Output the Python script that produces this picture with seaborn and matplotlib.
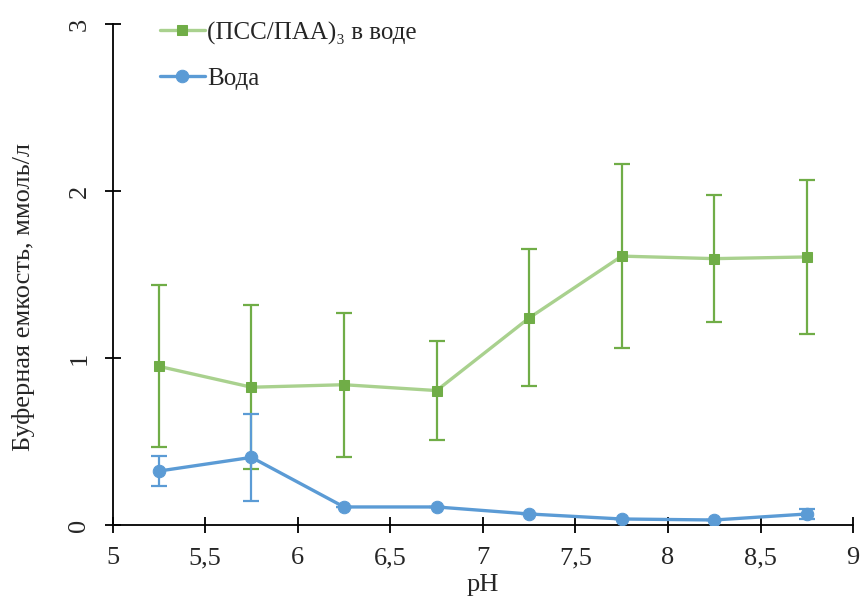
import numpy as np
import pandas as pd
import matplotlib
matplotlib.use("Agg")
import matplotlib.pyplot as plt
import seaborn as sns

ph = [5.25, 5.75, 6.25, 6.75, 7.25, 7.75, 8.25, 8.75]
pss_paa = [0.95, 0.825, 0.84, 0.805, 1.24, 1.61, 1.595, 1.605]
pss_paa_err = [0.485, 0.49, 0.43, 0.295, 0.41, 0.55, 0.38, 0.46]
water = [0.323, 0.405, 0.108, 0.108, 0.066, 0.036, 0.03, 0.066]
water_err = [0.09, 0.26, 0.0, 0.0, 0.0, 0.0, 0.0, 0.03]
x_ticks = [5, 5.5, 6, 6.5, 7, 7.5, 8, 8.5, 9]
x_tick_labels = ["5", "5,5", "6", "6,5", "7", "7,5", "8", "8,5", "9"]
y_ticks = [0, 1, 2, 3]
label_pss = "(ПСС/ПАА)₃ в воде"
label_water = "Вода"

sns.set_style("white")
plt.rcParams["font.family"] = ["Liberation Serif", "DejaVu Serif"]

fig = plt.figure(figsize=(8.6, 6), dpi=100)
ax = fig.add_axes([0.131, 0.125, 0.861, 0.835])

green_line = "#a9d18e"
green = "#70ad47"
blue = "#5b9bd5"

df1 = pd.DataFrame({"pH": ph, "v": pss_paa})
df2 = pd.DataFrame({"pH": ph, "v": water})

ax.errorbar(ph, pss_paa, yerr=pss_paa_err, fmt="none", ecolor=green,
            elinewidth=1.6, capsize=6, capthick=1.6, zorder=2)
ax.errorbar(ph, water, yerr=water_err, fmt="none", ecolor=blue,
            elinewidth=1.6, capsize=6, capthick=1.6, zorder=2)

sns.lineplot(data=df1, x="pH", y="v", ax=ax, color=green_line, linewidth=2.4,
             marker="s", markersize=7, markerfacecolor=green, markeredgecolor=green,
             label=label_pss, zorder=3)
sns.lineplot(data=df2, x="pH", y="v", ax=ax, color=blue, linewidth=2.4,
             marker="o", markersize=9, markerfacecolor=blue, markeredgecolor=blue,
             label=label_water, zorder=3)

ax.set_xlim(5, 9)
ax.set_ylim(0, 3)
ax.set_xticks(x_ticks)
ax.set_xticklabels(x_tick_labels, fontsize=19)
ax.set_yticks(y_ticks)
ax.set_yticklabels([str(t) for t in y_ticks], fontsize=19, rotation=90, va="center")
ax.tick_params(axis="both", direction="inout", length=12, width=1.3, color="black",
               bottom=True, left=True)
ax.tick_params(axis="x", pad=10)
ax.tick_params(axis="y", pad=10)

for s in ["top", "right"]:
    ax.spines[s].set_visible(False)
for s in ["left", "bottom"]:
    ax.spines[s].set_color("black")
    ax.spines[s].set_linewidth(1.3)

ax.set_xlabel("pH", fontsize=19)
ax.set_ylabel("Буферная емкость, ммоль/л", fontsize=19)
ax.xaxis.set_label_coords(0.5, -0.098)
ax.yaxis.set_label_coords(-0.105, 0.455)

ax.legend(loc="upper left", bbox_to_anchor=(0.05, 1.025), frameon=False,
          fontsize=18, handlelength=1.8, handletextpad=0.1, labelspacing=0.9,
          borderaxespad=0)

fig.savefig("out.png", dpi=100)
